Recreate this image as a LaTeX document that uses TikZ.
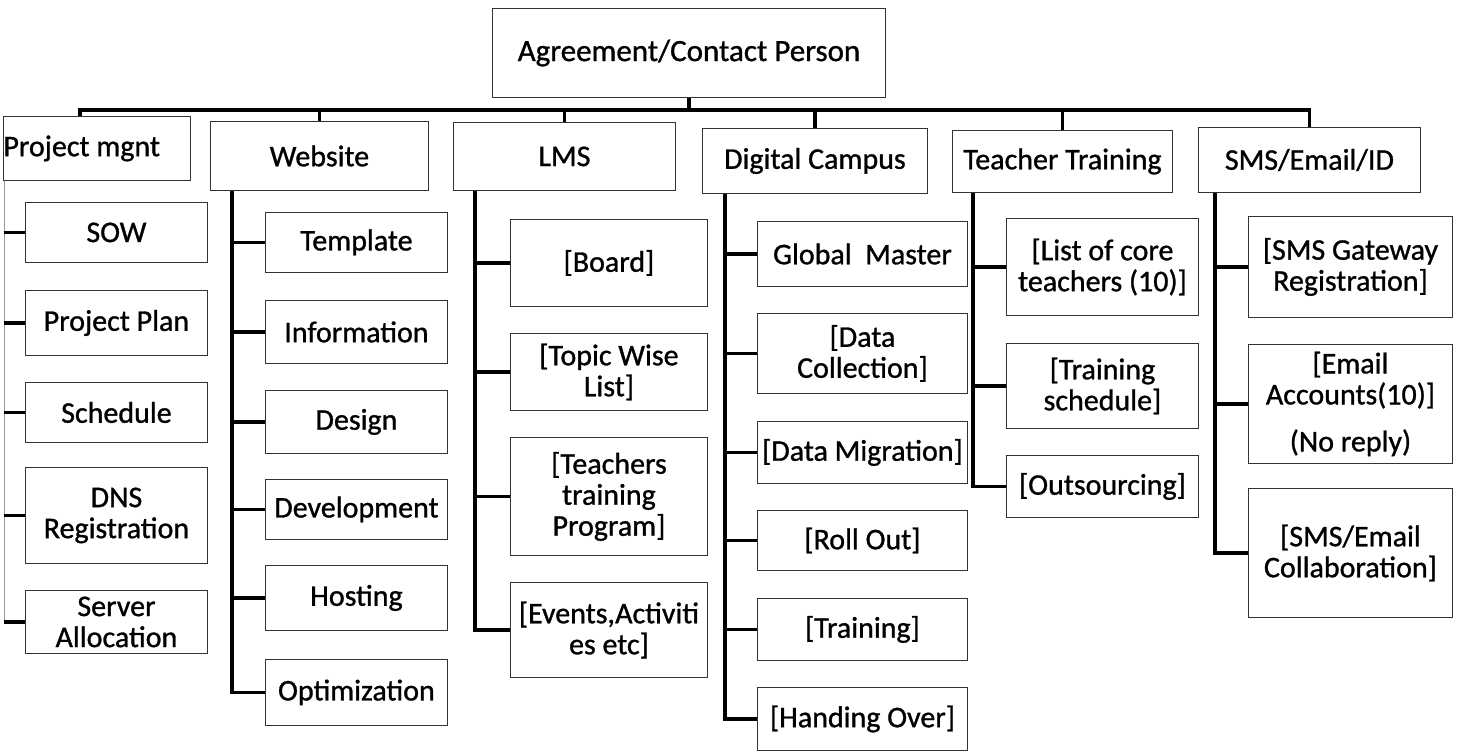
\documentclass[tikz,border=0pt]{standalone}
\usepackage{fontspec}
\setmainfont{Carlito}
\newfontfamily\boxfont{Carlito}[FakeBold=1.0]
\begin{document}
\begin{tikzpicture}[x=1pt,y=-1pt,
  box/.style={draw=black!80, line width=0.9pt, align=center, inner sep=0pt,
    anchor=north west, font=\boxfont\fontsize{30}{31}\selectfont},
  conn/.style={line width=3.6pt, black, line join=miter},
  faint/.style={line width=0.8pt, black!40}]
\useasboundingbox (0,0) rectangle (1477,755);

% root
\node[box, minimum width=393, minimum height=89, font=\boxfont\fontsize{31}{32}\selectfont] (top) at (492,8) {Agreement/Contact Person};

% first level
\node[box, minimum width=182, minimum height=64] (pm) at (3,116) {Project mgnt\hspace*{30pt}};
\node[box, minimum width=218, minimum height=69] (ws)  at (210,121)  {Website};
\node[box, minimum width=222, minimum height=68] (lms) at (453,122)  {LMS};
\node[box, minimum width=225, minimum height=65] (dc)  at (702,128)  {Digital Campus};
\node[box, minimum width=220, minimum height=62] (tt)  at (952,130)  {Teacher Training};
\node[box, minimum width=222, minimum height=65] (sms) at (1198,127) {SMS/Email/ID};

% project management
\node[box, minimum width=182, minimum height=60] (sow) at (25,202) {SOW};
\node[box, minimum width=182, minimum height=65] (pp)  at (25,290) {Project Plan};
\node[box, minimum width=182, minimum height=60] (sch) at (25,382) {Schedule};
\node[box, minimum width=182, minimum height=96] (dns) at (25,467) {DNS\\Registration};
\node[box, minimum width=182, minimum height=63] (srv) at (25,590) {Server\\Allocation};

% website
\node[box, minimum width=182, minimum height=60] (tpl) at (265,212) {Template};
\node[box, minimum width=182, minimum height=63] (inf) at (265,300) {Information};
\node[box, minimum width=182, minimum height=63] (des) at (265,390) {Design};
\node[box, minimum width=182, minimum height=60] (dev) at (265,479) {Development};
\node[box, minimum width=182, minimum height=65] (hos) at (265,565) {Hosting};
\node[box, minimum width=182, minimum height=66] (opt) at (265,659) {Optimization};

% LMS
\node[box, minimum width=197, minimum height=87]  (brd) at (510,219) {[Board]};
\node[box, minimum width=197, minimum height=77]  (twl) at (510,333) {[Topic Wise\\List]};
\node[box, minimum width=197, minimum height=118] (ttp) at (510,437) {[Teachers\\training\\Program]};
\node[box, minimum width=197, minimum height=95]  (evt) at (510,582) {[Events,Activiti\\es etc]};

% digital campus
\node[box, minimum width=210, minimum height=65] (gm)   at (757,221) {Global\ \ Master};
\node[box, minimum width=210, minimum height=80] (dcol) at (757,313) {[Data\\Collection]};
\node[box, minimum width=210, minimum height=62] (dmig) at (757,421) {[Data Migration]};
\node[box, minimum width=210, minimum height=60] (ro)   at (757,510) {[Roll Out]};
\node[box, minimum width=210, minimum height=62] (trn)  at (757,598) {[Training]};
\node[box, minimum width=210, minimum height=63] (ho)   at (757,687) {[Handing Over]};

% teacher training
\node[box, minimum width=192, minimum height=97] (lct) at (1006,218) {[List of core\\teachers (10)]};
\node[box, minimum width=192, minimum height=85] (tsc) at (1006,343) {[Training\\schedule]};
\node[box, minimum width=192, minimum height=62] (out) at (1006,455) {[Outsourcing]};

% sms / email / id
\node[box, minimum width=204, minimum height=101] (gw)  at (1248,216) {[SMS Gateway\\Registration]};
\node[box, minimum width=204, minimum height=119] (ea)  at (1248,344) {[Email\\Accounts(10)]\\[16pt](No reply)};
\node[box, minimum width=204, minimum height=129] (col) at (1248,488) {[SMS/Email\\Collaboration]};

% bus from the root to the first level
\coordinate (bus) at (0,110);
\draw[conn] ([xshift=-17pt]pm.north) |- (sms.north |- bus) -- (sms.north);
\foreach \n in {ws,lms,dc,tt} \draw[conn] (\n.north) -- (\n.north |- bus);
\draw[conn] (top.south) -- (top.south |- bus);

% spines
\coordinate (pmS)  at ([xshift=1pt]pm.south west);
\coordinate (wsS)  at ([xshift=22pt]ws.south west);
\coordinate (lmsS) at ([xshift=22pt]lms.south west);
\coordinate (dcS)  at ([xshift=23pt]dc.south west);
\coordinate (ttS)  at ([xshift=21pt]tt.south west);
\coordinate (smsS) at ([xshift=17pt]sms.south west);

\draw[faint] (pmS) -- (srv.west -| pmS);
\foreach \c in {sow,pp,sch,dns,srv} \draw[conn] (\c.west) -- (\c.west -| pmS);

\draw[conn] (wsS) |- (opt.west);
\foreach \c in {tpl,inf,des,dev,hos} \draw[conn] (\c.west) -- (\c.west -| wsS);

\draw[conn] (lmsS) |- (evt.west);
\foreach \c in {brd,twl,ttp} \draw[conn] (\c.west) -- (\c.west -| lmsS);

\draw[conn] (dcS) |- (ho.west);
\foreach \c in {gm,dcol,dmig,ro,trn} \draw[conn] (\c.west) -- (\c.west -| dcS);

\draw[conn] (ttS) |- (out.west);
\foreach \c in {lct,tsc} \draw[conn] (\c.west) -- (\c.west -| ttS);

\draw[conn] (smsS) |- (col.west);
\foreach \c in {gw,ea} \draw[conn] (\c.west) -- (\c.west -| smsS);
\end{tikzpicture}
\end{document}
